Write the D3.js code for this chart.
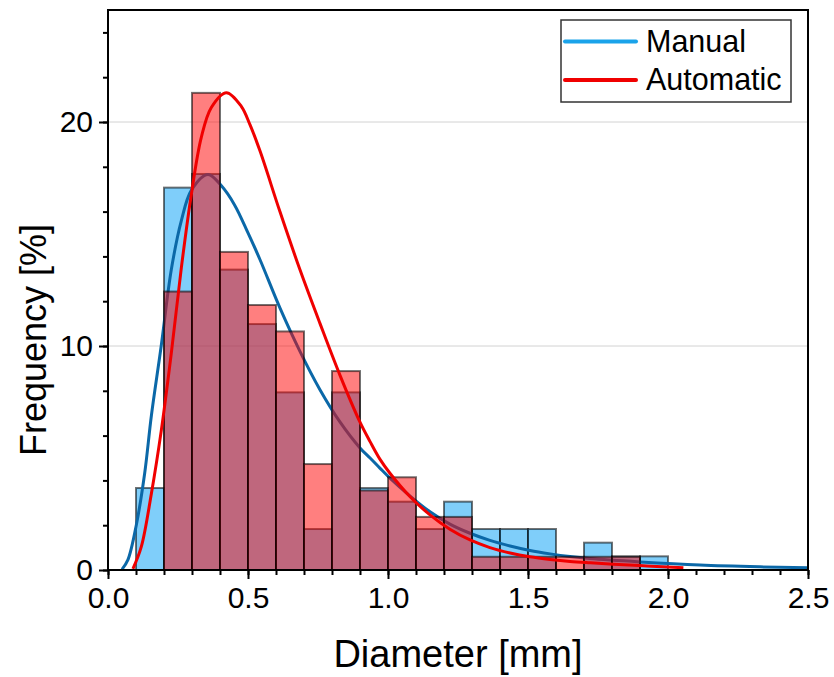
<!DOCTYPE html>
<html><head><meta charset="utf-8">
<script src="https://cdn.jsdelivr.net/npm/d3@7"></script>
<style>body{margin:0;background:#fff}svg{display:block}</style>
</head><body><svg id="c" width="834" height="677"></svg>
<script>
// ---- data ----
const binWidth = 0.1;
const manualBinStart = [0.1,0.2,0.3,0.4,0.5,0.6,0.7,0.8,0.9,1.0,1.1,1.2,1.3,1.4,1.5,1.6,1.7,1.8,1.9];
const manualFreq     = [3.66,17.07,17.68,13.41,10.98,7.93,1.83,7.93,3.66,3.05,1.83,3.05,1.83,1.83,1.83,0,1.22,0.61,0.61];
const autoBinStart   = [0.2,0.3,0.4,0.5,0.6,0.7,0.8,0.9,1.0,1.1,1.2,1.3,1.4,1.5,1.6,1.7,1.8];
const autoFreq       = [12.43,21.30,14.20,11.83,10.65,4.73,8.88,3.55,4.14,2.37,2.37,0.59,0.59,0.59,0.59,0.59,0.59];

const manualCurveX = [0.05,0.071,0.101,0.131,0.155,0.19,0.226,0.262,0.298,0.357,0.405,0.452,0.5,0.543,0.614,0.686,0.757,0.829,0.9,0.936,0.971,1.007,1.079,1.15,1.221,1.293,1.364,1.436,1.507,1.579,1.65,1.721,1.9,2.114,2.329,2.5];
const manualCurveY = [0.03,0.45,2.0,4.32,6.9,10.0,13.4,15.6,16.96,17.66,17.15,16.3,15.05,13.85,11.7,9.75,8.05,6.6,5.45,5.0,4.55,4.1,3.3,2.6,2.05,1.64,1.32,1.07,0.87,0.72,0.6,0.51,0.36,0.22,0.14,0.1];
const autoCurveX = [0.089,0.119,0.155,0.19,0.226,0.262,0.298,0.333,0.369,0.423,0.476,0.507,0.543,0.614,0.686,0.757,0.829,0.9,0.936,0.971,1.007,1.079,1.15,1.221,1.293,1.364,1.436,1.507,1.579,1.65,1.721,1.805,1.924,2.055];
const autoCurveY = [0.05,1.04,3.42,6.2,9.67,13.5,16.8,19.3,20.65,21.31,20.7,19.88,18.7,16.0,13.39,11.01,8.68,6.6,5.73,4.95,4.32,3.27,2.46,1.82,1.34,1.0,0.76,0.59,0.47,0.38,0.32,0.26,0.18,0.1];

const xMajorTicks = [0,0.5,1.0,1.5,2.0,2.5];
const xTickLabels = ["0.0","0.5","1.0","1.5","2.0","2.5"];
const yMajorTicks = [0,10,20];
const yTickLabels = ["0","10","20"];
const seriesNames = ["Manual","Automatic"];

// ---- layout ----
const svg = d3.select("#c");
const L = 108, R = 808, T = 10, B = 570;
const x = d3.scaleLinear().domain([0,2.5]).range([L,R]);
const y = d3.scaleLinear().domain([0,25]).range([B,T]);
const font = "'Liberation Sans', Arial, sans-serif";

// grid
svg.append("g").selectAll("line").data(yMajorTicks.filter(d=>d>0)).join("line")
  .attr("x1",L).attr("x2",R).attr("y1",d=>y(d)).attr("y2",d=>y(d))
  .attr("stroke","#d2d2d2").attr("stroke-width",1);

function bars(starts, vals, fill){
  svg.append("g").selectAll("rect").data(starts.map((s,i)=>({s,v:vals[i]})).filter(d=>d.v>0)).join("rect")
    .attr("x",d=>x(d.s)).attr("width",d=>x(d.s+binWidth)-x(d.s))
    .attr("y",d=>y(d.v)).attr("height",d=>y(0)-y(d.v))
    .attr("fill",fill).attr("fill-opacity",0.5)
    .attr("stroke","#000").attr("stroke-opacity",0.55).attr("stroke-width",2);
}
function curve(xs, ys, color){
  const line = d3.line().x(d=>x(d[0])).y(d=>y(d[1])).curve(d3.curveCatmullRom.alpha(0.5));
  svg.append("path").datum(xs.map((v,i)=>[v,ys[i]])).attr("d",line)
    .attr("fill","none").attr("stroke",color).attr("stroke-width",3);
}
bars(manualBinStart, manualFreq, "#009ef5");
curve(manualCurveX, manualCurveY, "#0b68a8");
bars(autoBinStart, autoFreq, "#ff0000");
curve(autoCurveX, autoCurveY, "#f00000");

// frame
svg.append("rect").attr("x",L).attr("y",T).attr("width",R-L).attr("height",B-T)
  .attr("fill","none").attr("stroke","#000").attr("stroke-width",2);

// axes
const xAxis = d3.axisBottom(x).tickValues(xMajorTicks).tickFormat((d,i)=>xTickLabels[i]).tickSize(9).tickPadding(8);
const xMinor = d3.axisBottom(x).tickValues(d3.range(0,26).map(i=>i/10)).tickFormat("").tickSize(5);
const yAxis = d3.axisLeft(y).tickValues(yMajorTicks).tickFormat((d,i)=>yTickLabels[i]).tickSize(9).tickPadding(6);
const yMinor = d3.axisLeft(y).tickValues(d3.range(0,13).map(i=>i*2)).tickFormat("").tickSize(5);
function style(g){
  g.select(".domain").remove();
  g.selectAll("line").attr("stroke","#000").attr("stroke-width",2);
  g.selectAll("text").attr("font-family",font).attr("font-size",30).attr("fill","#000");
}
svg.append("g").attr("transform",`translate(0,${B})`).call(xMinor).call(style);
svg.append("g").attr("transform",`translate(0,${B})`).call(xAxis).call(style);
svg.append("g").attr("transform",`translate(${L},0)`).call(yMinor).call(style);
svg.append("g").attr("transform",`translate(${L},0)`).call(yAxis).call(style);

// titles
svg.append("text").attr("x",(L+R)/2).attr("y",667).attr("text-anchor","middle")
  .attr("font-family",font).attr("font-size",38).text("Diameter [mm]");
svg.append("text").attr("transform",`translate(46,340) rotate(-90)`).attr("text-anchor","middle")
  .attr("font-family",font).attr("font-size",36).text("Frequency [%]");

// legend
const lg = svg.append("g");
lg.append("rect").attr("x",561).attr("y",20).attr("width",230).attr("height",82)
  .attr("fill","#fff").attr("stroke","#333").attr("stroke-width",1.5);
const legColors = ["#1aa3ea","#f00000"];
const legY = [41.5,80];
seriesNames.forEach((n,i)=>{
  lg.append("line").attr("x1",565).attr("x2",636).attr("y1",legY[i]).attr("y2",legY[i])
    .attr("stroke",legColors[i]).attr("stroke-width",4).attr("stroke-linecap","round");
  lg.append("text").attr("x",646).attr("y",legY[i]+10).attr("font-family",font)
    .attr("font-size",30.5).text(n);
});
</script></body></html>
